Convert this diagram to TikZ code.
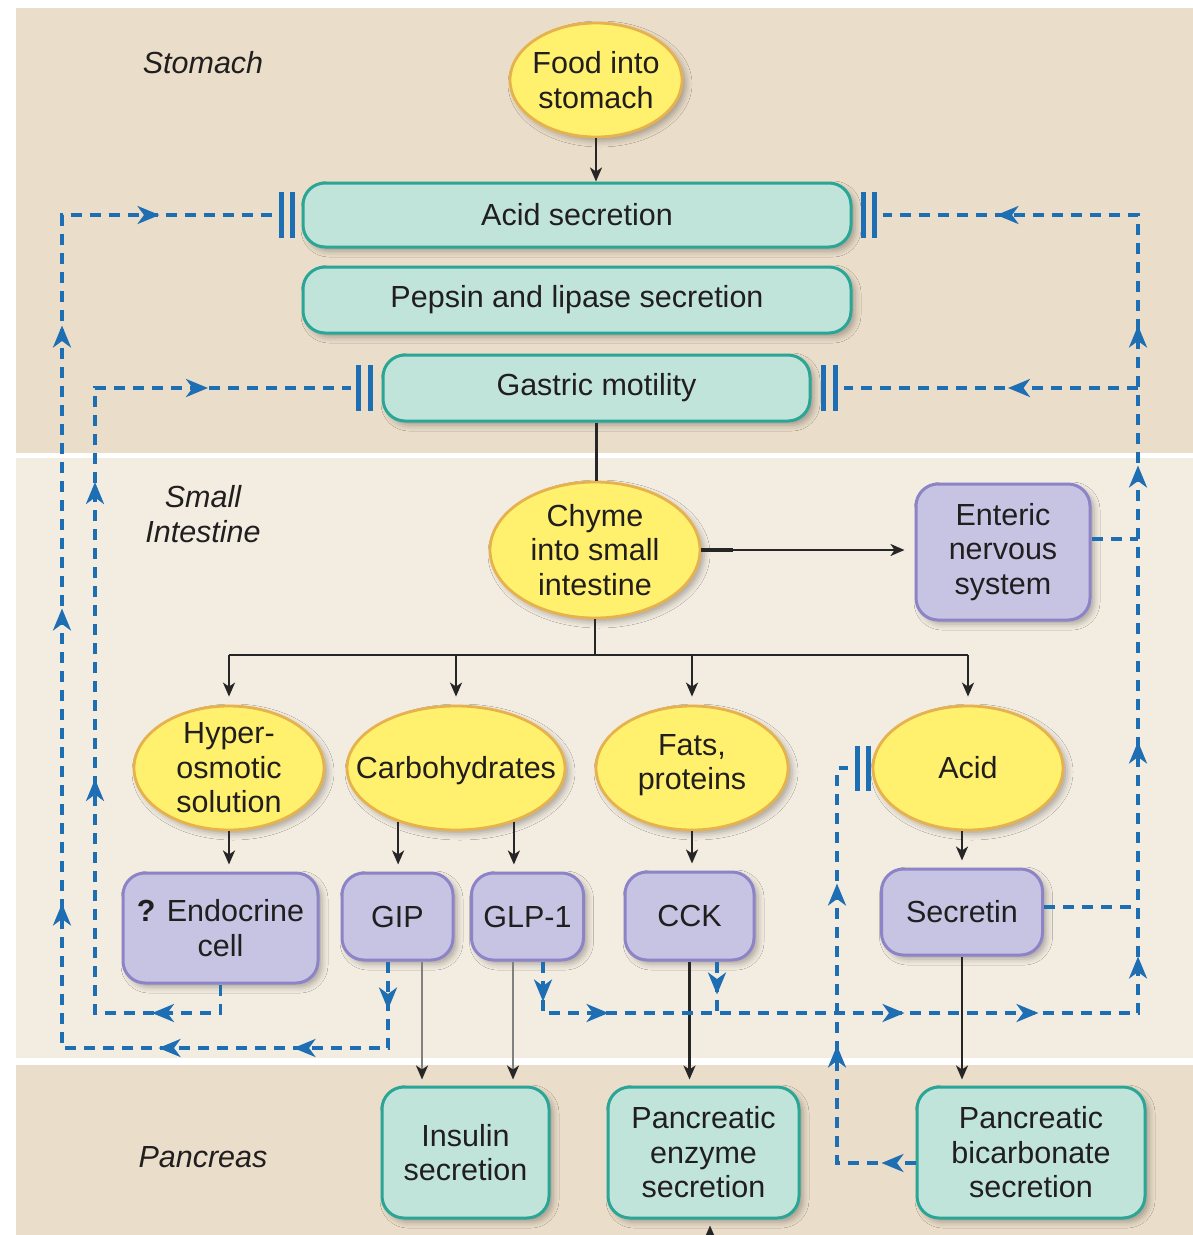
\documentclass[tikz,border=0pt]{standalone}
\usepackage{fontspec}
\setmainfont{Liberation Sans}
\usetikzlibrary{arrows.meta,shapes.geometric,decorations.markings,shadows.blur,calc}

\definecolor{stomachbg}{HTML}{EADDC9}
\definecolor{sibg}{HTML}{F3ECE1}
\definecolor{yfill}{HTML}{FFF06E}
\definecolor{ydraw}{HTML}{E6B24E}
\definecolor{tfill}{HTML}{C0E3DA}
\definecolor{tdraw}{HTML}{2AA596}
\definecolor{pfill}{HTML}{C6C4E2}
\definecolor{pdraw}{HTML}{8C84C6}
\definecolor{bl}{HTML}{1E6EB4}
\definecolor{txt}{HTML}{211E1F}

\begin{document}
\begin{tikzpicture}[x=1pt,y=-1pt,
  every node/.style={font=\fontsize{30.5}{34.5}\selectfont, text=txt, align=center, inner sep=0pt},
  shad/.style={blur shadow={shadow xshift=4pt, shadow yshift=-4pt, shadow blur radius=6pt, shadow opacity=30}},
  yell/.style={ellipse, fill=yfill, draw=ydraw, line width=2.8pt, shad},
  tealbox/.style={rectangle, rounded corners=22pt, fill=tfill, draw=tdraw, line width=3pt, shad},
  purpbox/.style={rectangle, rounded corners=22pt, fill=pfill, draw=pdraw, line width=3pt, shad},
  region/.style={font=\fontsize{30.5}{34.5}\selectfont\itshape},
  blk/.style={draw=black!85, line width=2.3pt, -{Stealth[length=14pt,width=12pt,inset=4pt]}},
  gry/.style={draw=black!50, line width=2.3pt, -{Stealth[length=14pt,width=12pt,inset=4pt,color=black!85]}},
  bline/.style={draw=black!85, line width=2.3pt},
  bdash/.style={draw=bl, color=bl, line width=3.3pt, dash pattern=on 11pt off 8pt},
  inhib/.style={draw=bl, line width=4.8pt},
  am/.style={postaction={decorate,decoration={markings,mark=at position #1 with {\arrow{Stealth[length=22pt,width=18pt,inset=6.5pt]}}}}},
  ]
\useasboundingbox (0,0) rectangle (1193,1235);
\fill[white] (0,0) rectangle (1193,1235);
% bands
\fill[stomachbg] (16,8) rectangle (1193,453);
\fill[sibg] (16,458) rectangle (1193,1058);
\fill[stomachbg] (16,1065) rectangle (1193,1235);

% region labels
\node[region] (lstom) at (203,63) {Stomach};
\node[region] (lsi) at (203,514) {Small\\Intestine};
\node[region] (lpan) at (203,1157) {Pancreas};

% ellipses (shape + text)
\node[yell, minimum width=172pt, minimum height=114pt] (food) at (596,80) {};
\node (foodt) at (food.center) {Food into\\stomach};
\node[yell, minimum width=210pt, minimum height=136pt] (chyme) at (595,550) {};
\node (chymet) at (chyme.center) {Chyme\\into small\\intestine};
\node[yell, minimum width=190pt, minimum height=124pt] (hyper) at (229,768) {};
\node (hypert) at (hyper.center) {Hyper-\\osmotic\\solution};
\node[yell, minimum width=218pt, minimum height=124pt] (carbo) at (456,768) {};
\node (carbot) at ([yshift=-3pt]carbo.center) {Carbohydrates};
\node[yell, minimum width=192pt, minimum height=124pt] (fats) at (692,768) {};
\node (fatst) at ([yshift=3pt]fats.center) {Fats,\\proteins};
\node[yell, minimum width=190pt, minimum height=124pt] (acidE) at (968,768) {};
\node (acidEt) at (acidE.center) {Acid};

% boxes
\node[tealbox, minimum width=548pt, minimum height=64pt] (acid) at (577,215) {Acid secretion};
\node[tealbox, minimum width=548pt, minimum height=66pt] (pepsin) at (577,300) {Pepsin and lipase secretion};
\node[tealbox, minimum width=427pt, minimum height=66pt] (gastric) at (596.5,388) {Gastric motility};
\node[purpbox, minimum width=174pt, minimum height=136pt] (ens) at (1003,552) {Enteric\\nervous\\system};
\node[purpbox, minimum width=195pt, minimum height=110pt] (endo) at (220.5,928) {\textbf{?} Endocrine\\cell};
\node[purpbox, minimum width=111pt, minimum height=87pt] (gip) at (397.5,916.5) {GIP};
\node[purpbox, minimum width=112pt, minimum height=87pt] (glp) at (527.5,916.5) {GLP-1};
\node[purpbox, minimum width=129pt, minimum height=88pt] (cck) at (689.5,916) {CCK};
\node[purpbox, minimum width=161pt, minimum height=86pt] (sec) at (962,912) {Secretin};
\node[tealbox, minimum width=167pt, minimum height=131pt] (ins) at (465.5,1152.5) {Insulin\\secretion};
\node[tealbox, minimum width=191pt, minimum height=131pt] (enz) at (703.5,1152.5) {Pancreatic\\enzyme\\secretion};
\node[tealbox, minimum width=228pt, minimum height=131pt] (bic) at (1031,1152.5) {Pancreatic\\bicarbonate\\secretion};

% black connectors
\draw[blk] (food.south) -- (food.south |- acid.north);
\draw[bline] (gastric.south) -- (gastric.south |- chyme.north);
\draw[line width=4.8pt, draw=black!85] (chyme.east) -- ++(32,0);
\draw[blk, shorten >=10pt] (chyme.east) -- (chyme.east -| ens.west);
\coordinate (bus) at (595,655);
\draw[bline] (chyme.south) -- (chyme.south |- bus);
\draw[bline] (hyper.north |- bus) -- (acidE.north |- bus);
\draw[blk, shorten >=8pt] (hyper.north |- bus) -- (hyper.north);
\draw[blk, shorten >=8pt] (carbo.north |- bus) -- (carbo.north);
\draw[blk, shorten >=8pt] (fats.north |- bus) -- (fats.north);
\draw[blk, shorten >=8pt] (acidE.north |- bus) -- (acidE.north);
\draw[blk, shorten >=7pt] (hyper.south) -- (hyper.south |- endo.north);
\draw[blk, shorten >=7pt] (carbo.-137) -- (carbo.-137 |- gip.north);
\draw[blk, shorten >=7pt] (carbo.-43) -- (carbo.-43 |- glp.north);
\draw[blk, shorten >=7pt] (fats.south) -- (fats.south |- cck.north);
\draw[blk, shorten >=7pt] (acidE.south -| sec.north) -- (sec.north);
\draw[gry, shorten >=6pt] (gip.south -| 422,0) -- (ins.north -| 422,0);
\draw[gry, shorten >=6pt] (glp.south -| 513,0) -- (ins.north -| 513,0);
\draw[blk, shorten >=6pt] (cck.south) -- (cck.south |- enz.north);
\draw[blk, shorten >=6pt] (sec.south) -- (sec.south |- bic.north);
\coordinate (below) at (710,1252);
\draw[blk, shorten >=6pt] (below) -- (below |- enz.south);

% blue dashed feedback
\coordinate (tx) at (1138,0);
% GIP -> acid secretion (outer left)
\draw[bdash, am=48pt, am=181pt, am=316pt, am=557pt, am=852pt, am=1135pt, am=1343pt]
  (gip.south -| 388,0) -- (388,1048) -- (62,1048) -- (62,215) -- ($(acid.west)+(-28,0)$);
% Endocrine -> gastric motility (inner left)
\draw[bdash, am=97pt, am=388pt, am=685pt, am=892pt]
  (endo.south) -- (220.5,1013) -- (95,1013) -- (95,388) -- ($(gastric.west)+(-31,0)$);
% trunk: GLP-1 -> acid secretion (right)
\draw[bdash, am=40pt, am=117pt, am=413pt, am=547pt, am=703pt, am=918pt, am=1194pt, am=1334pt, am=1586pt]
  (glp.south -| 543,0) -- (543,1013) -- (1138,1013) -- (1138,215) -- ($(acid.east)+(30,0)$);
% branch to gastric motility
\coordinate (gbr) at (1138,388);
\draw[bdash, am=130pt] (gbr) -- ($(gastric.east)+(32,0)$);
% CCK branch
\draw[bdash, am=33pt] (cck.south -| 717,0) -- (717,1013);
% secretin branch
\coordinate (secr) at ($(sec.east)+(0,-5)$);
\draw[bdash] (secr) -- (secr -| tx);
% ENS branch
\coordinate (ensr) at ($(ens.east)+(0,-13)$);
\draw[bdash] (ensr) -- (ensr -| tx);
% bicarbonate -> acid (inhibition)
\coordinate (bicl) at ($(bic.west)+(0,10.5)$);
\draw[bdash, am=34pt, am=196pt, am=358pt]
  (bicl) -- (837,1163) -- (837,768) -- ($(acidE.west)+(-24,0)$);

% inhibition bars
\draw[inhib] ($(acid.west)+(-20,-23)$) -- ++(0,46);
\draw[inhib] ($(acid.west)+(-9,-23)$) -- ++(0,46);
\draw[inhib] ($(acid.east)+(11,-23)$) -- ++(0,46);
\draw[inhib] ($(acid.east)+(22,-23)$) -- ++(0,46);
\draw[inhib] ($(gastric.west)+(-23,-23)$) -- ++(0,46);
\draw[inhib] ($(gastric.west)+(-11,-23)$) -- ++(0,46);
\draw[inhib] ($(gastric.east)+(12,-23)$) -- ++(0,46);
\draw[inhib] ($(gastric.east)+(24,-23)$) -- ++(0,46);
\draw[inhib] ($(acidE.west)+(-14,-22)$) -- ++(0,45);
\draw[inhib] ($(acidE.west)+(-3,-22)$) -- ++(0,45);
\end{tikzpicture}
\end{document}
